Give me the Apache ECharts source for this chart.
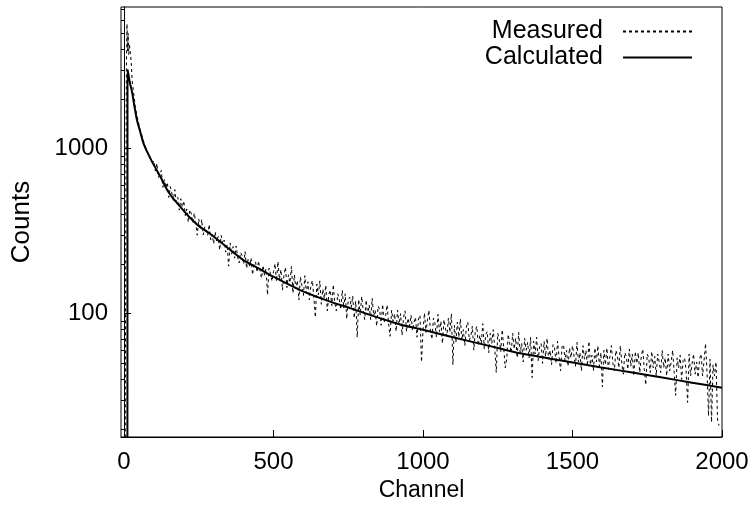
<!DOCTYPE html>
<html>
<head>
<meta charset="utf-8">
<script src="https://cdn.jsdelivr.net/npm/echarts@6/dist/echarts.min.js"></script>
<style>
  html, body { margin: 0; padding: 0; background: #fff; }
  #chart { width: 756px; height: 515px; }
</style>
</head>
<body>
<div id="chart"></div>
<script>
// measured spectrum, first channels (explicit channel numbers)
const measuredHeadChannels = [0, 2, 4, 6, 8, 10, 12, 14, 16, 18, 21, 24, 27, 30, 34, 38, 43, 48, 54, 60, 66, 72, 78, 84, 90, 95];
const measuredHeadCounts = [6, 8, 10, 400, 3000, 5700, 3900, 5000, 3700, 4300, 4200, 3400, 2600, 2350, 2050, 1800, 1600, 1450, 1300, 1200, 1100, 1020, 960, 900, 860, 820];

// measured spectrum, every 5th channel from 100 to 1990
const measuredTailStart = 100;
const measuredTailStep = 5;
const measuredTailCounts = [
  // 100 - 500
  845, 732, 815, 667, 706, 738, 583, 649, 580, 625,
  506, 588, 539, 486, 564, 474, 506, 424, 497, 441,
  483, 393, 431, 358, 426, 406, 355, 407, 355, 299,
  375, 323, 372, 300, 336, 338, 298, 347, 280, 302,
  265, 313, 274, 293, 243, 298, 264, 279, 236, 263,
  194, 268, 229, 255, 217, 257, 221, 203, 235, 225,
  200, 238, 188, 213, 194, 218, 172, 200, 206, 178,
  209, 182, 164, 196, 171, 187, 130, 189, 175, 157,
  180,
  // 505 - 1000
  201, 157, 207, 161, 185, 139, 171, 191, 144, 172,
  154, 193, 133, 172, 141, 159, 121, 167, 148, 129,
  170, 133, 156, 121, 147, 159, 125, 95, 151, 130,
  158, 114, 141, 123, 149, 104, 131, 139, 112, 150,
  116, 104, 132, 122, 106, 139, 108, 132, 93, 121,
  126, 109, 128, 94, 119, 72, 122, 98, 127, 105,
  92, 121, 98, 113, 92, 124, 97, 105, 84, 111,
  106, 85, 114, 88, 97, 113, 87, 73, 105, 90,
  100, 78, 105, 86, 100, 74, 95, 104, 78, 94,
  84, 98, 79, 89, 95, 72, 93, 98, 51, 79,
  // 1005 - 1500
  101, 77, 92, 105, 78, 70, 94, 87, 72, 99,
  78, 90, 66, 92, 82, 73, 94, 77, 100, 49,
  85, 67, 89, 72, 93, 69, 80, 64, 83, 89,
  69, 73, 84, 60, 79, 84, 64, 74, 66, 87,
  61, 75, 78, 58, 76, 66, 80, 62, 44, 76,
  70, 59, 80, 62, 47, 53, 75, 66, 58, 76,
  61, 71, 54, 77, 58, 66, 51, 71, 60, 67,
  54, 72, 41, 68, 57, 72, 52, 63, 66, 50,
  68, 55, 71, 53, 60, 49, 65, 62, 50, 68,
  55, 45, 63, 65, 52, 60, 48, 62, 54, 64,
  // 1505 - 1990
  63, 48, 67, 51, 58, 45, 64, 53, 60, 48,
  68, 49, 56, 45, 62, 51, 64, 48, 58, 36,
  60, 49, 62, 46, 55, 64, 50, 45, 60, 56,
  47, 64, 50, 43, 58, 55, 46, 61, 48, 57,
  42, 59, 50, 58, 44, 55, 61, 46, 37, 57,
  54, 44, 59, 47, 55, 42, 57, 51, 44, 60,
  47, 54, 42, 57, 45, 51, 60, 44, 32, 54,
  47, 56, 40, 52, 54, 45, 29, 57, 42, 50,
  57, 43, 51, 41, 53, 57, 42, 52, 66, 44,
  24, 53, 22, 49, 42, 51, 23, 21
];

// calculated curve
const calcChannels = [0, 11, 12, 15, 20, 27, 35, 43, 55, 65, 80, 99, 121, 145, 170, 200, 222, 250, 288, 330, 398, 450, 498, 589, 680, 756, 840, 923, 1000, 1100, 1258, 1324, 1458, 1592, 1700, 1800, 1900, 2000];
const calcCounts = [1, 1, 3000, 2800, 2500, 2200, 1800, 1500, 1250, 1080, 935, 800, 680, 560, 485, 420, 380, 340, 305, 265, 212, 188, 168, 139, 120, 108, 96, 86, 80, 72, 61.5, 57.5, 52.2, 47.4, 44, 41, 38.2, 35.6];

const xTicks = [0, 500, 1000, 1500, 2000];
const yLabels = [100, 1000];
const yMinorTicks = [20, 30, 40, 50, 60, 70, 80, 90, 200, 300, 400, 500, 600, 700, 800, 900, 2000, 3000, 4000, 5000, 6000, 7000];

const measured = measuredHeadChannels.map((c, i) => [c, measuredHeadCounts[i]])
  .concat(measuredTailCounts.map((v, i) => [measuredTailStart + i * measuredTailStep, v]));
const calculated = calcChannels.map((c, i) => [c, calcCounts[i]]);

const font = "'Liberation Sans', Arial, sans-serif";
const yMin = 17.9;
const yMax = 7210;

const chart = echarts.init(document.getElementById('chart'));
chart.setOption({
  animation: false,
  textStyle: { fontFamily: font, color: '#000' },
  grid: { left: 121, right: 34, top: 7, bottom: 78, show: true, borderColor: '#000', borderWidth: 1, containLabel: false },
  legend: {
    data: ['Measured', 'Calculated'],
    orient: 'vertical',
    right: 58,
    top: 14,
    align: 'right',
    itemWidth: 69,
    itemHeight: 10,
    itemGap: 1,
    selectedMode: false,
    itemStyle: { opacity: 0 },
    textStyle: { fontSize: 25, color: '#000', fontFamily: font, padding: [0, 15, 0, 0], lineHeight: 24 }
  },
  xAxis: {
    type: 'value',
    min: -10,
    max: 2000,
    name: 'Channel',
    nameLocation: 'middle',
    nameGap: 41,
    nameTextStyle: { fontSize: 23, color: '#000', fontFamily: font },
    axisLine: { lineStyle: { color: '#000' } },
    axisTick: { inside: true, length: 7, customValues: xTicks, lineStyle: { color: '#000' } },
    axisLabel: { customValues: xTicks, fontSize: 24, color: '#000', margin: 13, fontFamily: font, formatter: (v) => String(v) },
    splitLine: { show: false }
  },
  yAxis: [
    {
      type: 'log',
      min: yMin,
      max: yMax,
      name: 'Counts',
      nameLocation: 'middle',
      nameGap: 86,
      nameTextStyle: { fontSize: 26, color: '#000', fontFamily: font },
      axisLine: { show: true, lineStyle: { color: '#000' } },
      axisTick: { inside: true, length: 7, customValues: yLabels, lineStyle: { color: '#000' } },
      axisLabel: { customValues: yLabels, fontSize: 24, color: '#000', margin: 13, fontFamily: font, formatter: (v) => String(Math.round(v)) },
      splitLine: { show: false }
    },
    {
      type: 'log',
      min: yMin,
      max: yMax,
      position: 'left',
      axisLine: { show: false },
      axisTick: { inside: true, length: 4, customValues: yMinorTicks, lineStyle: { color: '#000' } },
      axisLabel: { show: false },
      splitLine: { show: false }
    }
  ],
  series: [
    {
      name: 'Measured',
      type: 'line',
      data: measured,
      symbol: 'none',
      clip: true,
      lineStyle: { color: '#000', width: 1, type: [3, 3] },
      itemStyle: { color: '#000' }
    },
    {
      name: 'Calculated',
      type: 'line',
      data: calculated,
      symbol: 'none',
      smooth: 0.2,
      clip: true,
      lineStyle: { color: '#000', width: 2 },
      itemStyle: { color: '#000' }
    }
  ]
});
</script>
</body>
</html>
